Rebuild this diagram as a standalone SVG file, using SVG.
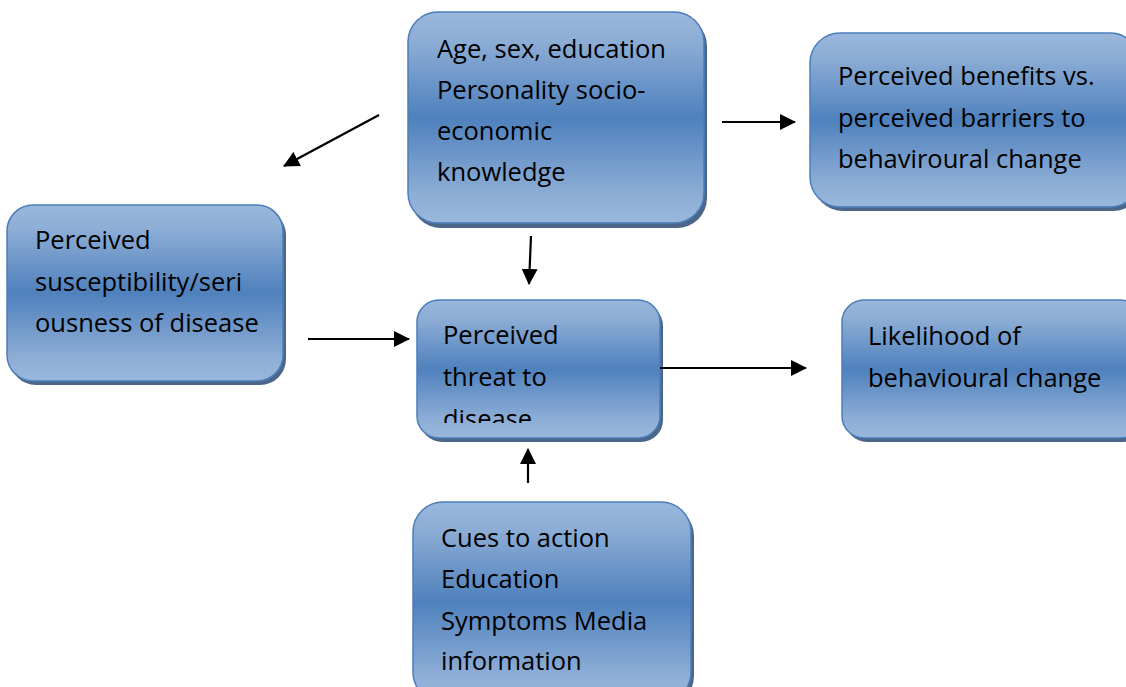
<svg xmlns="http://www.w3.org/2000/svg" width="1126" height="687" viewBox="0 0 1126 687">
<defs>
<linearGradient id="g" x1="0" y1="0" x2="0" y2="1">
<stop offset="0" stop-color="#9ab7dc"/>
<stop offset="0.13" stop-color="#8eaed6"/>
<stop offset="0.5" stop-color="#4f81bd"/>
<stop offset="0.87" stop-color="#8eaed6"/>
<stop offset="1" stop-color="#9ab7dc"/>
</linearGradient>
<marker id="ah" markerUnits="userSpaceOnUse" markerWidth="16" markerHeight="16" refX="15" refY="8" orient="auto">
<path d="M0,0 L16,8 L0,16 Z" fill="#000"/>
</marker>
<clipPath id="clipC"><rect x="417" y="300" width="243" height="123"/></clipPath>
<style>
.sh{fill:#2c4b74;opacity:0.85}
.bx{fill:url(#g);stroke:#4a7ebb;stroke-width:1.5}
.t{font-family:"Open Sans","Liberation Sans",sans-serif;font-size:25.5px;fill:#000}
.c{stroke:#000;stroke-width:2.2;fill:none;marker-end:url(#ah)}
</style>
</defs>
<rect width="1126" height="687" fill="#fff"/>
<g id="n-age">
<rect class="sh" x="411" y="16" width="296" height="212" rx="30"/>
<rect class="bx" x="408" y="12" width="296" height="211" rx="30"/>
<text class="t" x="437" y="58">Age, sex, education</text>
<text class="t" x="437" y="99">Personality socio-</text>
<text class="t" x="437" y="140">economic</text>
<text class="t" x="437" y="181">knowledge</text>
</g>
<g id="n-benefits">
<rect class="sh" x="813" y="37" width="330" height="174" rx="30"/>
<rect class="bx" x="810" y="33" width="330" height="174" rx="30"/>
<text class="t" x="838" y="85">Perceived benefits vs.</text>
<text class="t" x="838" y="127">perceived barriers to</text>
<text class="t" x="838" y="168">behaviroural change</text>
</g>
<g id="n-susc">
<rect class="sh" x="10" y="209" width="276" height="176" rx="26"/>
<rect class="bx" x="7" y="205" width="276" height="176" rx="26"/>
<text class="t" x="35" y="249">Perceived</text>
<text class="t" x="35" y="291">susceptibility/seri</text>
<text class="t" x="35" y="332">ousness of disease</text>
</g>
<g id="n-threat">
<rect class="sh" x="420" y="304" width="243" height="138" rx="22"/>
<rect class="bx" x="417" y="300" width="243" height="138" rx="22"/>
<g clip-path="url(#clipC)">
<text class="t" x="443" y="344">Perceived</text>
<text class="t" x="443" y="386">threat to</text>
<text class="t" x="443" y="428">disease</text>
</g>
</g>
<g id="n-likelihood">
<rect class="sh" x="845" y="304" width="300" height="138" rx="22"/>
<rect class="bx" x="842" y="300" width="300" height="138" rx="22"/>
<text class="t" x="868" y="345">Likelihood of</text>
<text class="t" x="868" y="387">behavioural change</text>
</g>
<g id="n-cues">
<rect class="sh" x="416" y="506" width="278" height="200" rx="30"/>
<rect class="bx" x="413" y="502" width="278" height="200" rx="30"/>
<text class="t" x="441" y="547">Cues to action</text>
<text class="t" x="441" y="588">Education</text>
<text class="t" x="441" y="630">Symptoms Media</text>
<text class="t" x="441" y="670">information</text>
</g>
<g id="connectors">
<line class="c" x1="379" y1="115" x2="284" y2="166"/>
<line class="c" x1="722" y1="122" x2="795" y2="122"/>
<line class="c" x1="531" y1="236" x2="529" y2="284"/>
<line class="c" x1="308" y1="339" x2="409" y2="339"/>
<line class="c" x1="660" y1="368" x2="806" y2="368"/>
<line class="c" x1="528" y1="483" x2="528" y2="449"/>
</g>
</svg>
